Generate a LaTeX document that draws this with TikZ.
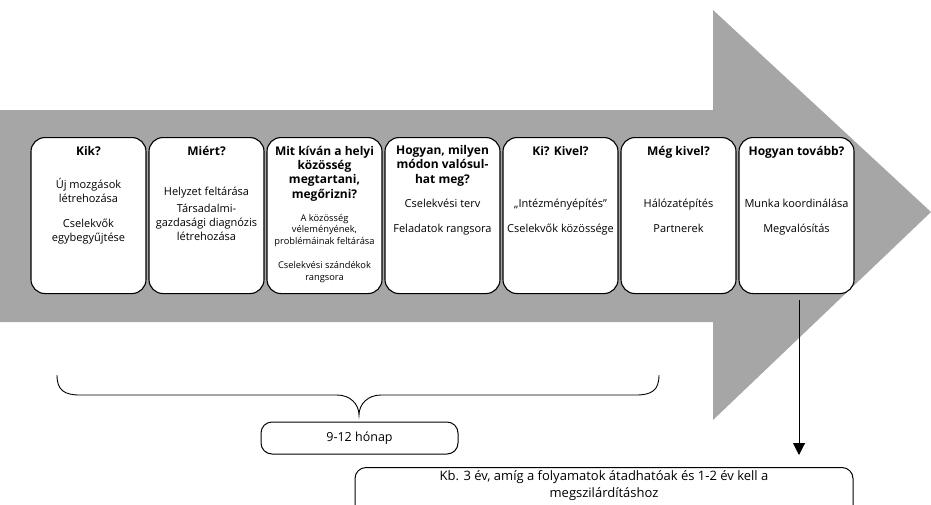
\documentclass[tikz,border=0pt]{standalone}
\usepackage{fontspec}
\setmainfont{Open Sans}
\usetikzlibrary{arrows.meta,positioning}
\definecolor{arrowgray}{RGB}{166,166,166}
\tikzset{
  card/.style={draw, fill=white, line width=1.1pt, rounded corners=14pt,
               minimum width=115pt, minimum height=156pt, anchor=north, inner sep=0pt},
  head/.style={font=\bfseries\fontsize{12}{14.3}\selectfont, align=center, anchor=base, inner sep=0pt},
  body/.style={font=\fontsize{11}{14}\selectfont, align=center, anchor=base, inner sep=0pt},
  smallbody/.style={body, font=\fontsize{9.3}{11.7}\selectfont},
  span/.style={draw, fill=white, line width=1pt, rounded corners=11pt, inner sep=0pt}
}

\begin{document}
\begin{tikzpicture}[x=1pt, y=-1pt, >={Triangle[width=12pt,length=12pt]}]
    \useasboundingbox (0,0) rectangle (931,504);
    \clip (0,0) rectangle (931,504);
    % big grey arrow
    \fill[arrowgray] (0,110) -- (713,110) -- (713,10) -- (931,212) -- (713,420) -- (713,322) -- (0,322) -- cycle;

    \foreach \i in {1,...,7}
        \node[card] (b\i) at ({88.5+118*(\i-1)},137) {};

    % base anchor = last line of the node
    \node[head] (h1) at ([yshift=-18pt]b1.north) {Kik?};
    \node[head] (h2) at ([yshift=-18pt]b2.north) {Miért?};
    \node[head] (h3) at ([yshift=-61pt]b3.north) {Mit kíván a helyi\\közösség\\megtartani,\\megőrizni?};
    \node[head] (h4) at ([yshift=-46pt]b4.north) {Hogyan, milyen\\módon valósul-\\hat meg?};
    \node[head] (h5) at ([yshift=-18pt]b5.north) {Ki? Kivel?};
    \node[head] (h6) at ([yshift=-18pt]b6.north) {Még kivel?};
    \node[head] (h7) at ([yshift=-18pt]b7.north) {Hogyan tovább?};

    \node[body] (t1) at ([yshift=-104pt]b1.north) {Új mozgások\\létrehozása\\[11pt]Cselekvők\\egybegyűjtése};
    \node[body] (t2) at ([yshift=-103pt]b2.north) {Helyzet feltárása\\[3pt]Társadalmi-\\gazdasági diagnózis\\létrehozása};
    \node[smallbody] (t3) at ([yshift=-143pt]b3.north) {A közösség\\véleményének,\\problémáinak feltárása\\[12pt]Cselekvési szándékok\\rangsora};
    \node[body] (t4) at ([yshift=-95pt]b4.north) {Cselekvési terv\\[11pt]Feladatok rangsora};
    \node[body] (t5) at ([yshift=-95pt]b5.north) {„Intézményépítés”\\[11pt]Cselekvők közössége};
    \node[body] (t6) at ([yshift=-95pt]b6.north) {Hálózatépítés\\[11pt]Partnerek};
    \node[body] (t7) at ([yshift=-95pt]b7.north) {Munka koordinálása\\[11pt]Megvalósítás};

    % brace over the first months
    \draw[line width=0.9pt] (57,375) .. controls (57,390) and (64,395) .. (80,395) -- (337,395)
        .. controls (350,395) and (359,404) .. (359,415)
        .. controls (359,404) and (368,395) .. (381,395) -- (636,395)
        .. controls (652,395) and (659,390) .. (659,375);
    \node[span, minimum width=197pt, minimum height=32pt, font=\fontsize{12.5}{14}\selectfont] (honap) at (359.5,438) {9-12 hónap};

    \node[span, minimum width=498pt, minimum height=60pt, anchor=north] (kb) at (604,467) {};
    \node[body, font=\fontsize{13}{17}\selectfont] (kbtext) at ([yshift=-30pt]kb.north) {Kb. 3 év, amíg a folyamatok átadhatóak és 1-2 év kell a\\megszilárdításhoz};

    \coordinate (arrowend) at (799,455);
    \draw[->, line width=1pt] (b7.south -| arrowend) ++(0,6) -- (arrowend);
\end{tikzpicture}
\end{document}
